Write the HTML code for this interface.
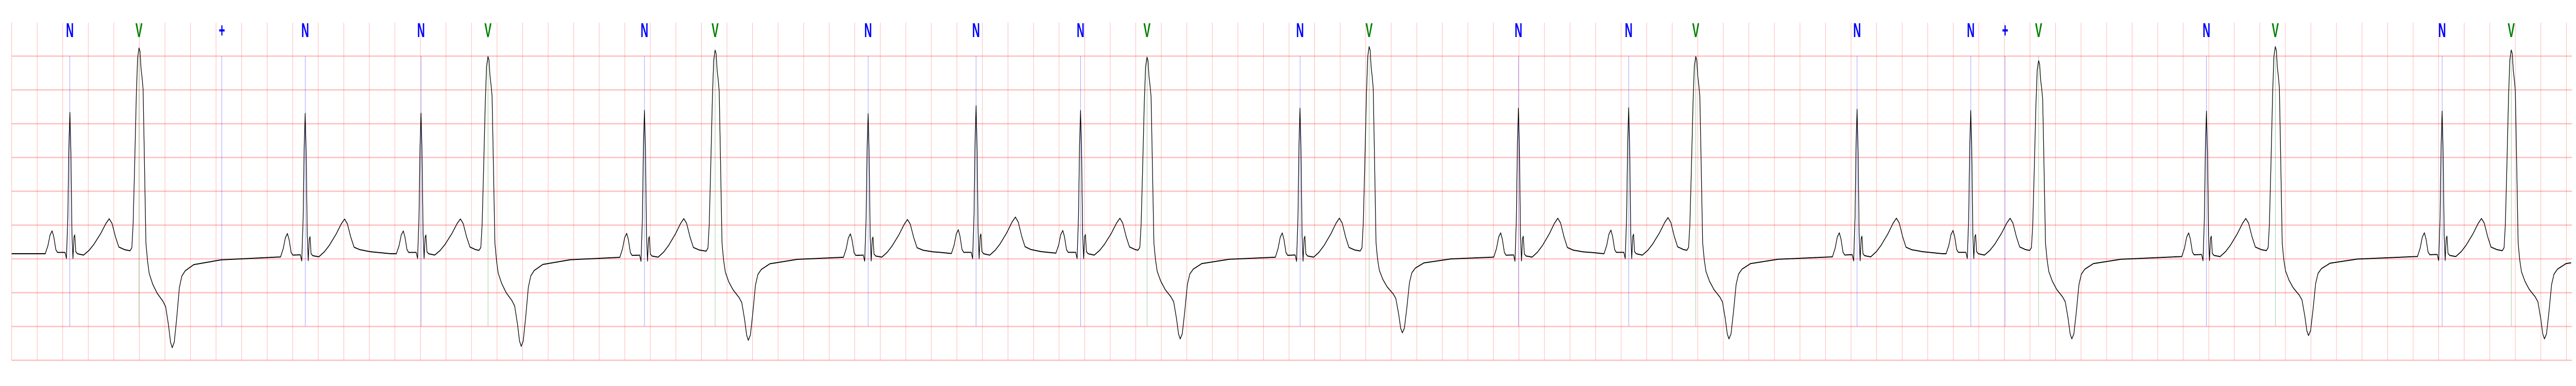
<!DOCTYPE html>
<html><head><meta charset="utf-8"><style>
html,body{margin:0;padding:0;background:#fff;width:100%;height:100%;overflow:hidden;}
svg{display:block;width:100vw;height:100vh;}
</style></head><body>
<svg id="chart" viewBox="0 0 7522 750" preserveAspectRatio="none" xmlns="http://www.w3.org/2000/svg">
<g id="grid"></g>
<g id="ann"></g>
<path id="trace" fill="none" stroke="#000" stroke-width="1.9" stroke-linejoin="round"/>
</svg>
<script>
// beat data
const beatTimesMs = [456,997,2298,3205,3729,4954,5507,6705,7550,8368,8888,10086,10627,11796,12659,13184,14447,15337,15868,17182,17721,19027,19568];
const beatTypes = ["N","V","N","N","V","N","V","N","N","N","V","N","V","N","N","V","N","N","V","N","V","N","V"];
const beatAmps = [2.09,3.02,2.11,2.08,2.89,2.16,2.99,2.11,2.19,2.12,2.88,2.19,3.04,2.19,2.16,2.89,2.17,2.12,2.83,2.14,3.04,2.14,2.99];
const vDepths = [0,1.39,0,0,1.37,0,1.28,0,0,0,1.26,0,1.17,0,0,1.26,0,0,1.26,0,1.21,0,1.26];
const extraMarkTimesMs = [1646,15606];
const extraMarkLabels = ["+","+"];
// template shapes (ms offset, mV)
const nTplT = [-193,-172,-155,-139,-126,-110,-97,-38,-27,-16,-8,0,8,16,24,32,38,46,59,107,150,188,241,282,308,330,357,383,429,509,670];
const nTplV = [0,0.12,0.28,0.34,0.25,0.06,0.02,0.02,-0.07,0.55,1.6,2.1,1.5,0.3,-0.07,0.25,0.28,0.03,0,-0.02,0.05,0.14,0.3,0.45,0.52,0.45,0.25,0.1,0.06,0.03,0];
const vTplT = [-70,-56,-46,-35,-21,-11,0,8,16,24,32,40,54,67,80,107,142,188,209,231,247,260,276,295,316,335,362,429,643,1072,1743];
const vTplV = [0,0.05,0.4,1.2,2.3,2.85,3.0,2.95,2.7,2.57,2.4,1.6,0.15,-0.12,-0.3,-0.45,-0.58,-0.7,-0.78,-1.05,-1.3,-1.38,-1.3,-0.95,-0.5,-0.33,-0.25,-0.16,-0.09,-0.05,0];

const X0=34, PXPS=373, Y0=493, PXMV=131.3, XEND=7508;
function xs(ms){return X0+ms/1000*PXPS;}
function ys(mv){return Y0-mv*PXMV;}
function interp(T,V,t){
  if(t<=T[0]||t>=T[T.length-1]) return 0;
  for(let i=1;i<T.length;i++){ if(t<=T[i]){const f=(t-T[i-1])/(T[i]-T[i-1]);return V[i-1]+f*(V[i]-V[i-1]);} }
  return 0;
}
function signal(t){
  let s=0;
  for(let i=0;i<beatTimesMs.length;i++){
    const d=t-beatTimesMs[i];
    if(beatTypes[i]==="N"){ s+=interp(nTplT,nTplV,d)*beatAmps[i]/2.1; }
    else {
      let v=interp(vTplT,vTplV,d);
      if(v>0) v*=beatAmps[i]/3.0; else if(d>50) v*=vDepths[i]/1.38;
      s+=v;
    }
  }
  return s;
}
const NS="http://www.w3.org/2000/svg";
const grid=document.getElementById('grid');
for(let k=0;k<=100;k++){
  const l=document.createElementNS(NS,'line');
  const x=X0+k*74.6;
  l.setAttribute('x1',x);l.setAttribute('x2',x);l.setAttribute('y1',44);l.setAttribute('y2',700);
  l.setAttribute('stroke','rgba(255,0,0,0.28)');l.setAttribute('stroke-width','1.5');
  
  
  grid.appendChild(l);
}
for(let k=0;k<=9;k++){
  const l=document.createElementNS(NS,'line');
  const y=109+k*65.67;
  l.setAttribute('x1',X0);l.setAttribute('x2',XEND+2);l.setAttribute('y1',y);l.setAttribute('y2',y);
  l.setAttribute('stroke','rgba(255,0,0,0.25)');l.setAttribute('stroke-width','2.5');
  
  
  grid.appendChild(l);
}
const ann=document.getElementById('ann');
function addMark(ms,label,color,lineColor){
  const x=xs(ms);
  const l=document.createElementNS(NS,'line');
  l.setAttribute('x1',x);l.setAttribute('x2',x);l.setAttribute('y1',109);l.setAttribute('y2',634);
  l.setAttribute('stroke',lineColor);l.setAttribute('stroke-width','1');
  
  
  ann.appendChild(l);
  const t=document.createElementNS(NS,'text');
  t.setAttribute('transform','translate('+x+',72) scale(0.8,1)');
  t.setAttribute('text-anchor','middle');
  t.setAttribute('font-family','"Liberation Sans", sans-serif');
  t.setAttribute('font-weight','bold');t.setAttribute('font-size','39');
  t.setAttribute('fill',color);
  t.textContent=label;
  
  
  ann.appendChild(t);
}
for(let i=0;i<beatTimesMs.length;i++){
  if(beatTypes[i]==="N") addMark(beatTimesMs[i],"N","#0000ff","rgba(0,0,255,0.55)");
  else addMark(beatTimesMs[i],"V","#008000","rgba(0,128,0,0.55)");
}
for(let i=0;i<extraMarkTimesMs.length;i++) addMark(extraMarkTimesMs[i],extraMarkLabels[i],"#0000ff","rgba(0,0,255,0.55)");
let d="";
const tEnd=(XEND-X0)/PXPS*1000;
for(let t=0;t<=tEnd;t+=1){
  d+=(t===0?"M":"L")+xs(t).toFixed(1)+" "+ys(signal(t)).toFixed(1);
}
document.getElementById('trace').setAttribute('d',d);
</script>
</body></html>
